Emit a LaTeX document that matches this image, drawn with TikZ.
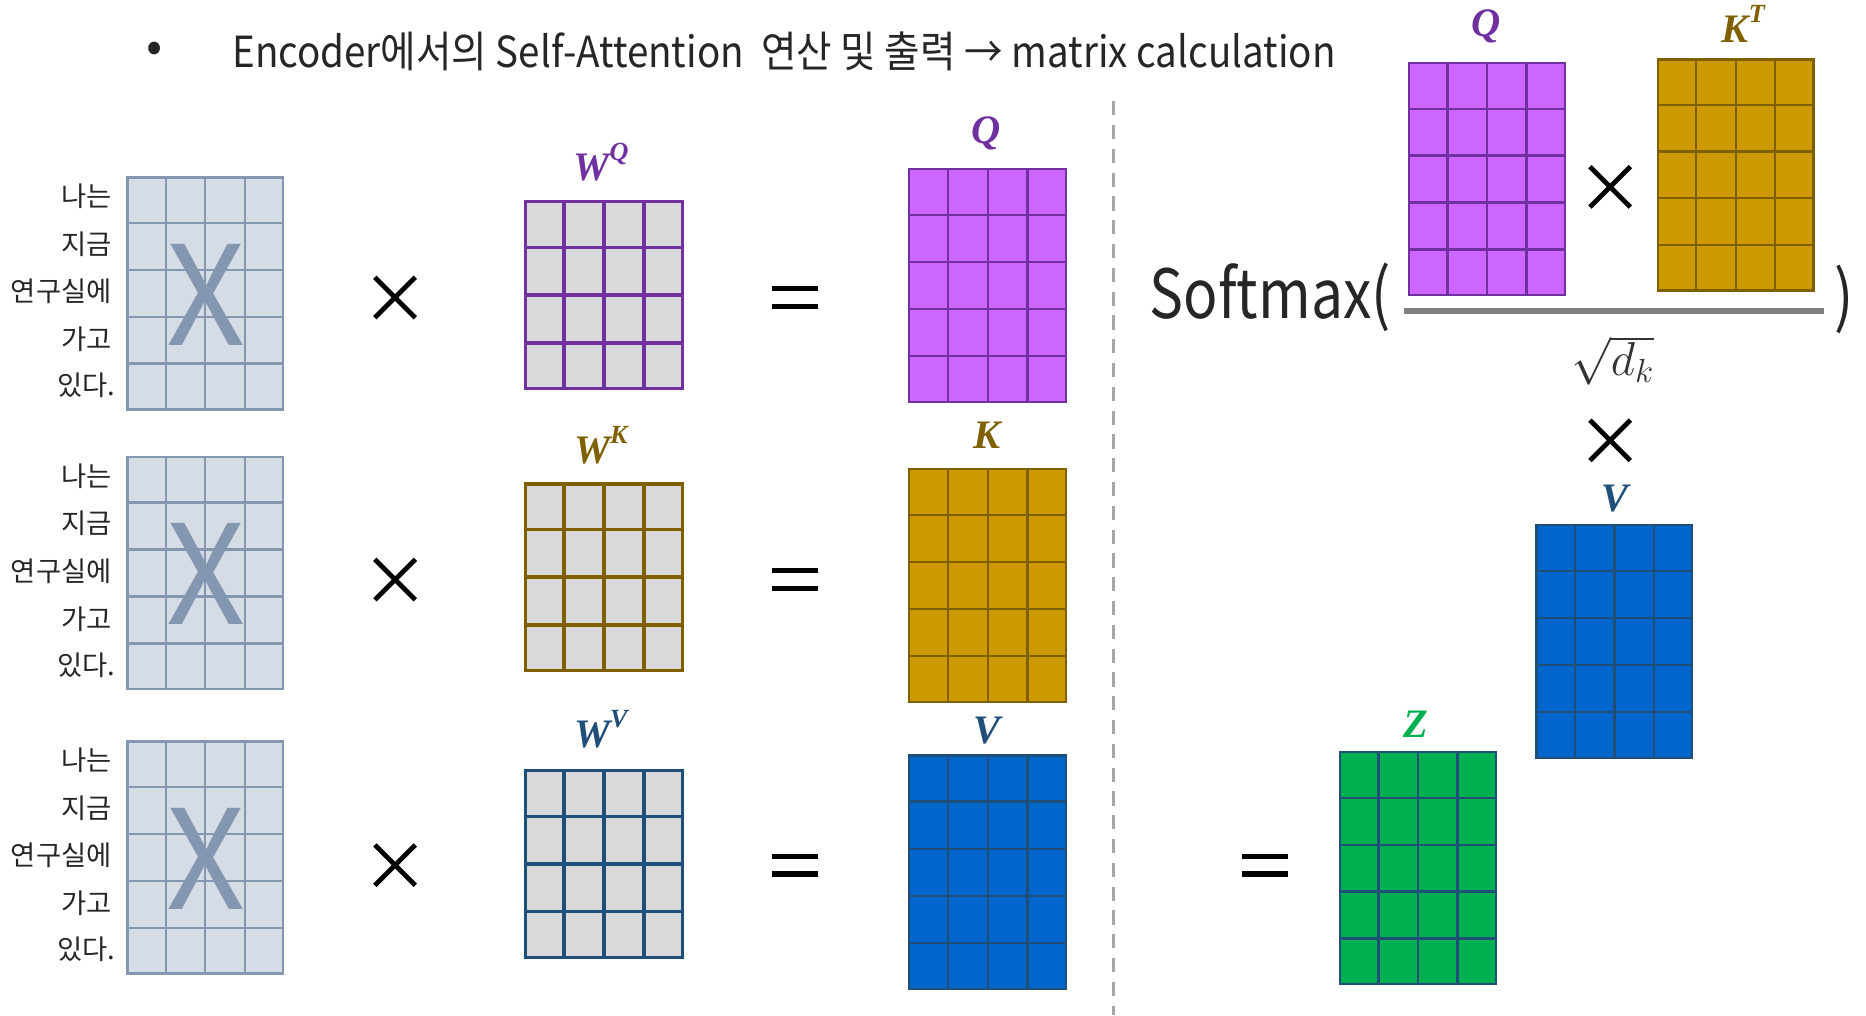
\RequirePackage{fix-cm}
\documentclass[tikz,border=0pt]{standalone}
\usepackage{fontspec}
\setmainfont{Noto Sans CJK KR}
\newfontfamily\narrowkr{Noto Sans CJK KR}[FakeStretch=0.84]
\newfontfamily\titlekr{Noto Sans CJK KR}[FakeStretch=0.9]
\newfontfamily\labfont{Liberation Serif}
\usetikzlibrary{calc,shapes.misc}
\definecolor{xfill}{HTML}{D6DCE5}
\definecolor{xline}{HTML}{8497B0}
\definecolor{wfill}{HTML}{D9D9D9}
\definecolor{qfill}{HTML}{CC66FF}
\definecolor{qline}{HTML}{7030A0}
\definecolor{kfill}{HTML}{CC9900}
\definecolor{kline}{HTML}{7F6000}
\definecolor{vfill}{HTML}{0066CC}
\definecolor{vline}{HTML}{1F4E79}
\definecolor{zfill}{HTML}{00B050}
\definecolor{txt}{HTML}{262626}
\tikzset{
  mat/.style={draw, rectangle, inner sep=0pt, anchor=north west},
  xmat/.style={mat, fill=xfill, draw=xline, line width=2pt, minimum width=131pt, minimum height=195pt},
  xgrid/.style={draw=xline, line width=2pt},
  wmat/.style={mat, fill=wfill, line width=3pt, minimum width=132pt, minimum height=157pt},
  omat/.style={mat, line width=2pt, minimum width=132pt, minimum height=196pt},
  kor/.style={anchor=east, text=txt, font=\fontsize{23}{23}\selectfont, inner sep=0pt},
  bigx/.style={text=xline, font=\fontsize{116}{116}\selectfont, inner sep=0pt},
  times/.style={cross out, draw=black, line width=4pt, minimum size=30pt, inner sep=0pt},
  eqbar/.style={line width=4.5pt, draw=black},
  lab/.style={font=\labfont\bfseries\itshape\fontsize{34}{34}\selectfont, inner sep=0pt},
}
\newcommand{\supl}[1]{\raisebox{0.5em}{\fontsize{22}{22}\selectfont #1}}
\newcommand{\gridmat}[4]{%
  \pgfmathtruncatemacro\gc{#2-1}%
  \pgfmathtruncatemacro\gr{#3-1}%
  \foreach \i in {1,...,\gc}
    \draw[#4] ($(#1.north west)!\i/#2!(#1.north east)$) -- ($(#1.south west)!\i/#2!(#1.south east)$);
  \foreach \j in {1,...,\gr}
    \draw[#4] ($(#1.north west)!\j/#3!(#1.south west)$) -- ($(#1.north east)!\j/#3!(#1.south east)$);
}
\newcommand{\eqsign}[1]{%
  \draw[eqbar] ($(#1)+(-19.5,-7.5)$) -- ($(#1)+(19.5,-7.5)$);
  \draw[eqbar] ($(#1)+(-19.5,7.5)$) -- ($(#1)+(19.5,7.5)$);
}
\begin{document}
\begin{tikzpicture}[x=1pt, y=-1pt]
\useasboundingbox[fill=white] (0,0) rectangle (1568,853);

% title
\node[text=txt, font=\fontsize{40}{40}\selectfont, inner sep=0pt] (bul) at (130,44) {•};
\node[anchor=west, text=txt, font=\titlekr\fontsize{36}{36}\selectfont, inner sep=0pt] (title) at (195,43)
  {Encoder에서의 Self-Attention\ \ 연산 및 출력 → matrix calculation};

% X matrices with labels
\foreach \n/\y in {1/148, 2/383, 3/622}{
  \node[xmat] (x\n) at (106,\y) {};
  \gridmat{x\n}{4}{5}{xgrid}
  \node[bigx] (xl\n) at ($(x\n.center)+(1,1)$) {X};
  \node[kor] (a\n) at (94,\y+17) {나는};
  \node[kor] (b\n) at (94,\y+57) {지금};
  \node[kor] (c\n) at (94,\y+97) {연구실에};
  \node[kor] (d\n) at (94,\y+137) {가고};
  \node[kor] (e\n) at (97,\y+176) {있다.};
}

% times signs
\node[times] (t1) at (332,250) {};
\node[times] (t2) at (332,487) {};
\node[times] (t3) at (332,727) {};

% W matrices
\node[wmat, draw=qline] (wq) at (440,168) {};
\gridmat{wq}{4}{4}{draw=qline, line width=3pt}
\node[wmat, draw=kline] (wk) at (440,405) {};
\gridmat{wk}{4}{4}{draw=kline, line width=3pt}
\node[wmat, draw=vline] (wv) at (440,646) {};
\gridmat{wv}{4}{4}{draw=vline, line width=3pt}
\node[lab, text=qline] (lwq) at (505,136) {W\supl{Q}};
\node[lab, text=kline] (lwk) at (505,374) {W\supl{K}};
\node[lab, text=vline] (lwv) at (505,613) {W\supl{V}};

% equals
\coordinate (e1) at (668,250);
\coordinate (e2) at (668,487);
\coordinate (e3) at (668,727);
\eqsign{e1}\eqsign{e2}\eqsign{e3}

% Q K V results
\node[omat, fill=qfill, draw=qline] (q) at (763,141) {};
\gridmat{q}{4}{5}{draw=qline, line width=2pt}
\node[omat, fill=kfill, draw=kline] (k) at (763,393) {};
\gridmat{k}{4}{5}{draw=kline, line width=2pt}
\node[omat, fill=vfill, draw=vline] (v) at (763,634) {};
\gridmat{v}{4}{5}{draw=vline, line width=2pt}
\node[lab, text=qline] (lq) at (829,112) {Q};
\node[lab, text=kline] (lk) at (829,366) {K};
\node[lab, text=vline] (lv) at (829,614) {V};

% divider
\coordinate (dtop) at (936,85);
\coordinate (dbot) at (936,853);
\draw[draw=black!35, line width=2.5pt, dash pattern=on 12pt off 8pt] (dtop) -- (dbot);

% right side: attention formula
\node[omat, fill=qfill, draw=qline, minimum width=131pt, minimum height=195pt] (rq) at (1183,52) {};
\gridmat{rq}{4}{5}{draw=qline, line width=2pt}
\node[lab, text=qline] (lrq) at (1249,22) {Q};
\node[times] (t4) at (1353,157) {};
\node[omat, fill=kfill, draw=kline, minimum width=131pt, minimum height=194pt] (rk) at (1392,49) {};
\gridmat{rk}{4}{5}{draw=kline, line width=2pt}
\node[lab, text=kline] (lrk) at (1465,20) {K\supl{T}};

\node[anchor=west, text=txt, font=\narrowkr\fontsize{57}{57}\selectfont, inner sep=0pt] (soft) at (966,250) {Softmax(};
\coordinate (fa) at (1180,261);
\coordinate (fb) at (1533,261);
\draw[draw=black!50, line width=5pt] (fa) -- (fb);
\node[text=txt, font=\narrowkr\fontsize{57}{57}\selectfont, inner sep=0pt] (rpar) at (1550,252) {)};
\node[text=black!80, font=\fontsize{40}{40}\selectfont, inner sep=0pt] (dk) at (1355,303) {$\sqrt{d_k}$};

\node[times] (t5) at (1353,370) {};
\node[omat, fill=vfill, draw=vline, minimum width=131pt] (rv) at (1290,440) {};
\gridmat{rv}{4}{5}{draw=vline, line width=2pt}
\node[lab, text=vline] (lrv) at (1357,419) {V};

\coordinate (e4) at (1063,727);
\eqsign{e4}
\node[omat, fill=zfill, draw=vline, minimum width=131pt, minimum height=195pt] (z) at (1125,631) {};
\gridmat{z}{4}{5}{draw=vline, line width=2pt}
\node[lab, text=zfill] (lz) at (1190,609) {Z};
\end{tikzpicture}
\end{document}
